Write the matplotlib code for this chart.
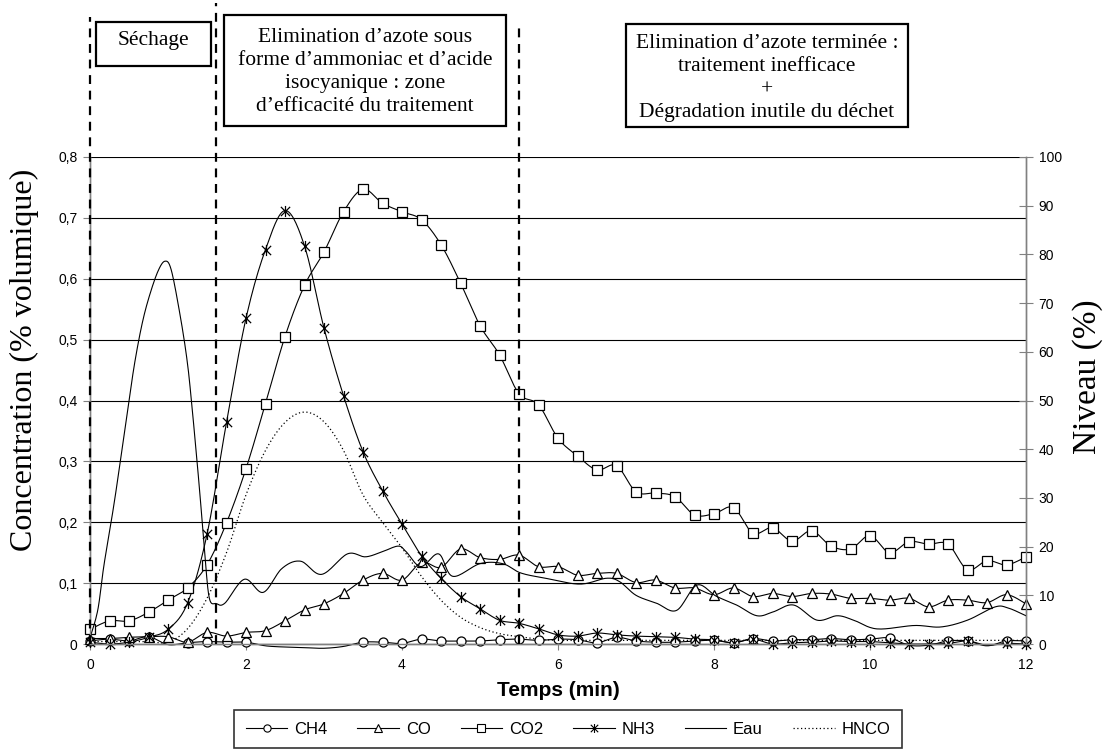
import numpy as np
import matplotlib
matplotlib.use('Agg')
import matplotlib.pyplot as plt
import matplotlib.patches as mpatches
import matplotlib.transforms as mtransforms
from matplotlib.path import Path

# temps (min), un point toutes les 15 s
t = [i * 0.25 for i in range(49)]

ch4 = [0.005, 0.008, 0.005, 0.012, -0.001, 0.002, 0.004, 0.003, 0.003, -0.003,
       -0.005, -0.006, -0.007, -0.004, 0.003, 0.003, 0.001, 0.008, 0.005, 0.005,
       0.005, 0.007, 0.008, 0.006, 0.008, 0.007, 0.002, 0.011, 0.005, 0.003,
       0.003, 0.005, 0.006, 0.002, 0.009, 0.005, 0.007, 0.007, 0.009, 0.007,
       0.008, 0.010, -0.002, -0.002, 0.005, 0.005, -0.003, 0.005, 0.005]
co = [0.009, 0.009, 0.011, 0.012, 0.012, 0.003, 0.019, 0.013, 0.019, 0.022,
      0.038, 0.056, 0.066, 0.083, 0.105, 0.116, 0.105, 0.134, 0.126, 0.156,
      0.142, 0.139, 0.146, 0.127, 0.127, 0.113, 0.116, 0.116, 0.101, 0.105,
      0.092, 0.092, 0.081, 0.092, 0.078, 0.083, 0.078, 0.083, 0.082, 0.075,
      0.075, 0.072, 0.075, 0.061, 0.072, 0.072, 0.068, 0.081, 0.066]
co2 = [0.024, 0.038, 0.038, 0.052, 0.072, 0.092, 0.130, 0.199, 0.288, 0.395,
       0.505, 0.589, 0.644, 0.710, 0.747, 0.724, 0.710, 0.697, 0.656, 0.593,
       0.523, 0.475, 0.411, 0.393, 0.338, 0.309, 0.286, 0.293, 0.250, 0.248,
       0.242, 0.212, 0.214, 0.224, 0.182, 0.191, 0.169, 0.186, 0.161, 0.156,
       0.178, 0.150, 0.168, 0.164, 0.164, 0.122, 0.137, 0.130, 0.143]
nh3 = [0.003, 0.0, 0.003, 0.011, 0.024, 0.067, 0.180, 0.364, 0.535, 0.648,
       0.712, 0.654, 0.519, 0.408, 0.316, 0.252, 0.197, 0.145, 0.108, 0.078,
       0.058, 0.039, 0.034, 0.025, 0.015, 0.013, 0.018, 0.015, 0.013, 0.012,
       0.011, 0.008, 0.007, 0.002, 0.008, 0.0, 0.002, 0.003, 0.005, 0.004,
       0.004, 0.002, 0.0, 0.0, 0.001, 0.005, -0.002, 0.001, 0.0]
hnco = [0.004, 0.004, 0.004, 0.004, 0.003, 0.025, 0.075, 0.150, 0.245, 0.318,
        0.364, 0.381, 0.365, 0.318, 0.245, 0.200, 0.158, 0.111, 0.072, 0.044,
        0.027, 0.017, 0.012, 0.008, 0.006, 0.006, 0.006, 0.006, 0.006, 0.006,
        0.006, 0.006, 0.006, 0.006, 0.006, 0.006, 0.006, 0.006, 0.006, 0.006,
        0.006, 0.006, 0.006, 0.006, 0.006, 0.006, 0.006, 0.006, 0.006]

# niveau d'eau (%), axe de droite
t_eau = [0.0, 0.1, 0.18, 0.32, 0.5, 0.58, 0.67, 0.76, 0.87, 0.96, 1.04, 1.15,
         1.24, 1.30, 1.40, 1.47, 1.53, 1.62, 1.73, 1.98, 2.22, 2.46, 2.70, 2.97,
         3.30, 3.53, 3.74, 3.95, 4.05, 4.24, 4.47, 4.65, 5.0, 5.29, 5.52, 5.84,
         6.28, 6.62, 6.79, 7.0, 7.26, 7.52, 7.78, 8.03, 8.29, 8.55, 8.76, 9.02,
         9.32, 9.58, 9.79, 10.09, 10.57, 10.91, 11.25, 11.6, 11.77, 12.0]
eau = [1.3, 7.0, 16.3, 30.0, 50.0, 58.4, 65.9, 71.4, 76.5, 78.6, 76.9, 68.0,
       58.8, 50.0, 32.5, 18.8, 9.4, 8.3, 8.4, 13.3, 10.6, 15.5, 17.0, 14.3,
       18.5, 17.9, 18.9, 20.1, 19.0, 15.9, 18.5, 13.9, 16.5, 16.5, 14.6, 13.5,
       12.3, 13.5, 12.8, 10.0, 8.4, 6.9, 12.1, 9.8, 8.0, 5.8, 6.6, 8.0,
       4.9, 5.8, 4.9, 3.1, 3.8, 3.5, 4.9, 7.6, 7.4, 5.8]

conc_ticks = [0, 0.1, 0.2, 0.3, 0.4, 0.5, 0.6, 0.7, 0.8]
conc_labels = ['0', '0,1', '0,2', '0,3', '0,4', '0,5', '0,6', '0,7', '0,8']
niveau_ticks = [0, 10, 20, 30, 40, 50, 60, 70, 80, 90, 100]
temps_ticks = [0, 2, 4, 6, 8, 10, 12]

phase_bounds = [0, 1.62, 5.5]
phase_texts = ["Séchage",
               "Elimination d’azote sous\nforme d’ammoniac et d’acide\nisocyanique : zone\nd’efficacité du traitement",
               "Elimination d’azote terminée :\ntraitement inefficace\n+\nDégradation inutile du déchet"]

SERIF = 'Liberation Serif'
SANS = 'Liberation Sans'
W, H = 1106, 755


def smooth(x, y, n=16):
    # courbe lissée (bezier type Excel) passant par les points
    pts = np.column_stack([x, y]).astype(float)
    p = np.vstack([pts[0], pts, pts[-1]])
    s = np.linspace(0, 1, n, endpoint=False)[:, None]
    segs = []
    for i in range(1, len(p) - 2):
        p0, p1, p2, p3 = p[i - 1], p[i], p[i + 1], p[i + 2]
        c1 = p1 + (p2 - p0) / 6.0
        c2 = p2 - (p3 - p1) / 6.0
        segs.append((1 - s) ** 3 * p1 + 3 * (1 - s) ** 2 * s * c1
                    + 3 * (1 - s) * s ** 2 * c2 + s ** 3 * p2)
    segs.append(pts[-1:])
    out = np.vstack(segs)
    return out[:, 0], out[:, 1]


star = Path([(-1, -1), (1, 1), (-1, 1), (1, -1), (0, -1.2), (0, 1.2)],
            [Path.MOVETO, Path.LINETO, Path.MOVETO, Path.LINETO, Path.MOVETO, Path.LINETO])

fig = plt.figure(figsize=(W / 100, H / 100), dpi=100)
ax = fig.add_axes([90 / W, 1 - 644 / H, (1026 - 90) / W, (644 - 157) / H])
ax2 = ax.twinx()

series = [('CH4', ch4, 'o', 6.5), ('CO', co, '^', 7.5), ('CO2', co2, 's', 6.5), ('NH3', nh3, star, 8)]
handles = []
for name, vals, mk, ms in series:
    vals = np.array(vals)
    xs, ys = smooth(t, vals)
    ax.plot(xs, ys, color='black', lw=0.8, clip_on=False, zorder=3)
    shown = vals >= 0
    ax.plot(np.array(t)[shown], vals[shown], ls='none', marker=mk, ms=ms, mfc='white',
            mec='black', mew=0.9, zorder=4, clip_on=False)
    handles.append(plt.Line2D([], [], color='black', lw=0.8, marker=mk, ms=ms * 0.8,
                              mfc='white', mec='black', mew=0.8, label=name))

xs, ys = smooth(t, hnco)
ax.plot(xs, ys, color='black', lw=0.9, ls=(0, (1, 2)), zorder=3)

xs, ys = smooth(t_eau, eau)
ax2.plot(xs, ys, color='black', lw=0.8)

handles.append(plt.Line2D([], [], color='black', lw=0.8, label='Eau'))
handles.append(plt.Line2D([], [], color='black', lw=0.9, ls=(0, (1, 2)), label='HNCO'))

ax.set_xlim(0, 12)
ax.set_ylim(0, 0.8)
ax2.set_ylim(0, 100)
ax.set_xticks(temps_ticks)
ax.set_xticklabels([str(v) for v in temps_ticks], fontsize=10, family=SANS)
ax.set_yticks(conc_ticks)
ax.set_yticklabels(conc_labels, fontsize=10, family=SANS)
ax2.set_yticks(niveau_ticks)
ax2.set_yticklabels([str(v) for v in niveau_ticks], fontsize=10, family=SANS)
ax.yaxis.grid(True, color='black', lw=0.8)
ax.set_axisbelow(True)

for a in (ax, ax2):
    a.spines['top'].set_visible(False)
    for s in ('left', 'right', 'bottom'):
        a.spines[s].set_color('#808080')
        a.spines[s].set_linewidth(1.0)
ax.tick_params(axis='y', direction='out', length=5, color='#808080', pad=4)
ax.tick_params(axis='x', direction='inout', length=8, color='#808080', pad=6)
ax2.tick_params(axis='y', direction='inout', length=10, color='#808080', pad=4)

fig.text(24 / W, 1 - 360 / H, 'Concentration (% volumique)', rotation=90,
         ha='center', va='center', fontsize=23, family=SERIF)
fig.text(1088 / W, 1 - 377 / H, 'Niveau (%)', rotation=90,
         ha='center', va='center', fontsize=24, family=SERIF)
fig.text(558 / W, 1 - 690 / H, 'Temps (min)', ha='center', va='center',
         fontsize=15, fontweight='bold', family=SANS)

# limites des phases (traits tirets qui montent jusqu'aux cadres)
blend = mtransforms.blended_transform_factory(ax.transData, fig.transFigure)
tops = [1 - 17 / H, 1 - 3 / H, 1 - 22 / H]
for xb, top in zip(phase_bounds, tops):
    fig.add_artist(plt.Line2D([xb, xb], [1 - 644 / H, top], transform=blend,
                              color='black', lw=1.6, ls=(0, (4, 3)), zorder=5))

frames = [(96, 22, 211, 66), (224, 15, 506, 126), (626, 24, 908, 127)]
text_y = [40, 72, 78]
for (x0, y0, x1, y1), ty, txt in zip(frames, text_y, phase_texts):
    fig.add_artist(mpatches.Rectangle((x0 / W, 1 - y1 / H), (x1 - x0) / W, (y1 - y0) / H,
                                      transform=fig.transFigure, facecolor='white',
                                      edgecolor='black', lw=1.6, zorder=6))
    fig.text((x0 + x1) / 2 / W, 1 - ty / H, txt, ha='center', va='center',
             multialignment='center', fontsize=15.5, family=SERIF, linespacing=1.3, zorder=7)

leg = fig.legend(handles=handles, loc='center', bbox_to_anchor=(568 / W, 1 - 729 / H),
                 ncol=6, frameon=True, fancybox=False, edgecolor='black',
                 prop={'family': SANS, 'size': 12}, handlelength=2.5,
                 columnspacing=1.8, handletextpad=0.4, borderpad=0.7)
leg.get_frame().set_linewidth(1.2)

fig.savefig('out.png', dpi=100, facecolor='white')
